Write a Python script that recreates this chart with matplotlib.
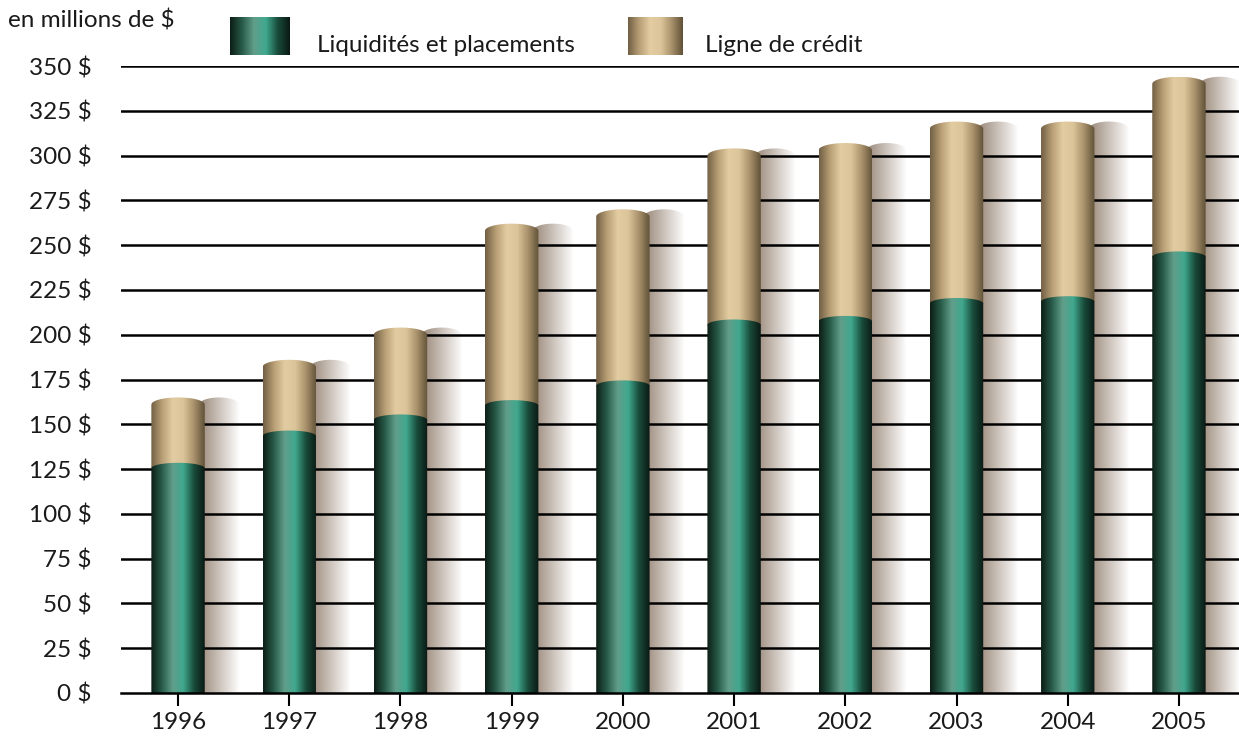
import matplotlib
matplotlib.use('Agg')

from matplotlib import pyplot as plt
from matplotlib.path import Path
from matplotlib.patches import PathPatch
import numpy as np

years = ['1996', '1997', '1998', '1999', '2000', '2001', '2002', '2003', '2004', '2005']
liquidites = [127, 145, 154, 162, 173, 207, 209, 219, 220, 245]
credit = [38, 41, 50, 100, 97, 97, 98, 100, 99, 99]
yticks = list(range(0, 351, 25))
ytick_labels = ['%d $' % v for v in yticks]

plt.rcParams['font.family'] = ['Lato', 'DejaVu Sans']
FS = 17.5
TXT = '#1a1a1a'

GREEN = [(0.05, 0.12, 0.09), (0.16, 0.36, 0.29), (0.38, 0.62, 0.54),
         (0.25, 0.66, 0.56), (0.10, 0.30, 0.23), (0.04, 0.10, 0.08)]
TAN = [(0.45, 0.38, 0.27), (0.72, 0.62, 0.46), (0.89, 0.80, 0.63),
       (0.86, 0.77, 0.60), (0.66, 0.57, 0.42), (0.38, 0.32, 0.22)]


def gradient(stops, n=64):
    pos = np.linspace(0, 1, len(stops))
    t = np.linspace(0, 1, n)
    arr = np.array(stops)
    row = np.stack([np.interp(t, pos, arr[:, k]) for k in range(3)], axis=1)
    return row[np.newaxis, :, :]


def cyl_path(x0, w, y0, y1, cap):
    # rectangle with a rounded top
    ang = np.linspace(0, np.pi, 30)
    xs = x0 + w / 2 + w / 2 * np.cos(ang)
    ys = y1 + cap * np.sin(ang)
    verts = [(x0, y0), (x0 + w, y0)] + list(zip(xs, ys)) + [(x0, y0)]
    return Path(verts)


fig = plt.figure(figsize=(12.39, 7.38), dpi=100)
ax = fig.add_axes([121 / 1239, 45 / 738, 1 - 121 / 1239, 627 / 738])

x = np.arange(len(years))
width = 0.48
cap = 4.0
totals = [a + b for a, b in zip(liquidites, credit)]

# shadows to the right of each cylinder
sh = np.zeros((1, 64, 4))
c0 = (0.60, 0.53, 0.47)
for k in range(3):
    sh[0, :, k] = np.linspace(c0[k], 1.0, 64)
sh[0, :, 3] = 1.0
for xi, tot in zip(x, totals):
    x0 = xi + width / 2 - 0.05
    p = PathPatch(cyl_path(x0, 0.36, 0, tot - cap, cap), facecolor='none',
                  edgecolor='none')
    ax.add_patch(p)
    im = ax.imshow(sh, extent=(x0, x0 + 0.36, 0, tot), aspect='auto',
                   zorder=0.5, interpolation='bilinear')
    im.set_clip_path(p)

for v in yticks[1:]:
    ax.axhline(v, color='black', lw=1.8, zorder=1)

bars_g = ax.bar(x, liquidites, width, color='none', zorder=2)
bars_t = ax.bar(x, credit, width, bottom=liquidites, color='none', zorder=2)

for b in bars_g:
    x0, w = b.get_x(), b.get_width()
    p = PathPatch(cyl_path(x0, w, 0, b.get_height() - 1.5, 3.0), facecolor='none',
                  edgecolor='none', zorder=2)
    ax.add_patch(p)
    im = ax.imshow(gradient(GREEN), extent=(x0, x0 + w, 0, b.get_height() + 1.5),
                   aspect='auto', zorder=2.2, interpolation='bilinear')
    im.set_clip_path(p)

for b in bars_t:
    x0, w = b.get_x(), b.get_width()
    y0 = b.get_y()
    top = y0 + b.get_height() - cap
    p = PathPatch(cyl_path(x0, w, y0 - 2, top, cap), facecolor='none',
                  edgecolor='none')
    ax.add_patch(p)
    im = ax.imshow(gradient(TAN), extent=(x0, x0 + w, y0 - 2, top + cap),
                   aspect='auto', zorder=2.1, interpolation='bilinear')
    im.set_clip_path(p)

ax.set_xlim(-0.513, 9.54)
ax.set_ylim(0, 350)
ax.set_xticks(x)
ax.set_xticklabels(years)
ax.set_yticks(yticks)
ax.set_yticklabels(ytick_labels)
for s in ['top', 'right', 'left']:
    ax.spines[s].set_visible(False)
ax.spines['bottom'].set_linewidth(1.8)
ax.spines['bottom'].set_zorder(3)
ax.tick_params(axis='y', length=0, pad=21, labelsize=FS, labelcolor=TXT)
ax.tick_params(axis='x', length=9, width=1.5, pad=5, labelsize=FS, labelcolor=TXT)
ax.set_facecolor('white')

fig.text(8 / 1239, 1 - 21 / 738, 'en millions de $', fontsize=FS,
         va='center', ha='left', color=TXT)

# legend swatches
lg = fig.add_axes([230 / 1239, 1 - 55 / 738, 60 / 1239, 38 / 738])
lg.imshow(gradient(GREEN), aspect='auto', interpolation='bilinear')
lg.axis('off')
lt = fig.add_axes([628 / 1239, 1 - 55 / 738, 55 / 1239, 38 / 738])
lt.imshow(gradient(TAN), aspect='auto', interpolation='bilinear')
lt.axis('off')
fig.text(317 / 1239, 1 - 45 / 738, 'Liquidités et placements', fontsize=FS,
         va='center', ha='left', color=TXT)
fig.text(705 / 1239, 1 - 45 / 738, 'Ligne de crédit', fontsize=FS,
         va='center', ha='left', color=TXT)

fig.savefig('out.png', dpi=100)
